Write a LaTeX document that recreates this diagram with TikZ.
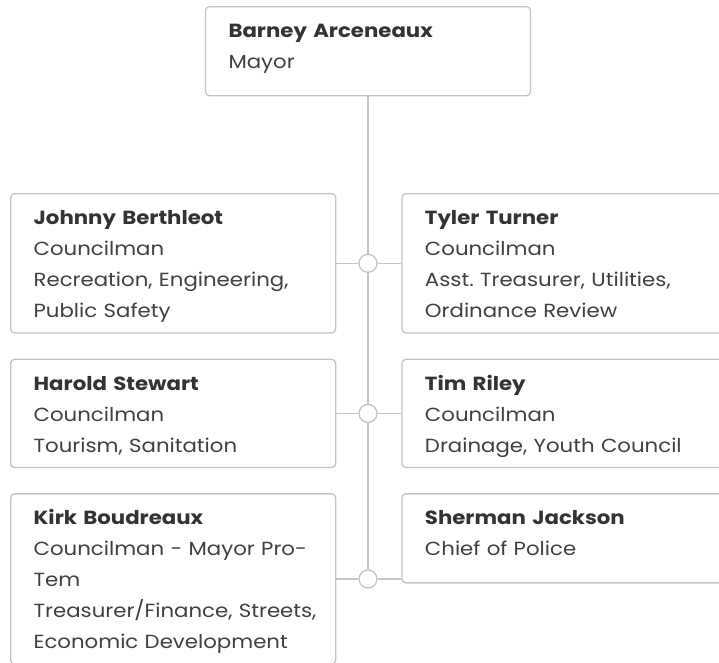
\documentclass[tikz,border=0pt]{standalone}
\usepackage{fontspec}
\setmainfont{Poppins}[FakeStretch=1.12]
\frenchspacing
\usetikzlibrary{positioning}
\definecolor{linegray}{HTML}{C4C4C4}
\definecolor{namegray}{HTML}{333333}
\definecolor{textgray}{HTML}{404040}
\tikzset{
x=1pt, y=-1pt, % pixel-like coordinates, y grows downwards
person/.style={draw=linegray, line width=1.3pt, rounded corners=4pt, fill=white,
  text width=279pt, align=left, inner xsep=23pt, inner ysep=6pt,
  text height=25pt, font=\fontsize{19}{31}\selectfont, text=textgray,
  execute at end node=\strut}, % every box of the chart
short/.style={text depth=52pt}, % two-line boxes are a bit taller
joint/.style={circle, draw=linegray, line width=1.3pt, fill=white, minimum size=18pt, inner sep=0pt},
link/.style={draw=linegray, line width=1.3pt},
}
\newcommand{\who}[1]{\textbf{\color{namegray}#1}}

\begin{document}
\begin{tikzpicture}
            \clip (0,0) rectangle (719,662);
            \node[person, short, anchor=north] (mayor) at (368,6) {\who{Barney Arceneaux}\\Mayor};
            \node[person, anchor=north west] (johnny) at (10,193)
                {\who{Johnny Berthleot}\\Councilman\\\mbox{Recreation, Engineering,}\\Public Safety};
            \node[person, below=25pt of johnny.south west, anchor=north west] (harold)
                {\who{Harold Stewart}\\Councilman\\Tourism, Sanitation};
            \node[person, below=25pt of harold.south west, anchor=north west] (kirk)
                {\who{Kirk Boudreaux}\\Councilman - Mayor Pro-\\Tem\\\mbox{Treasurer/Finance, Streets,}\\\mbox{Economic Development}};
            \node[person, right=65pt of johnny] (turner)
                {\who{Tyler Turner}\\Councilman\\\mbox{Asst. Treasurer, Utilities,}\\Ordinance Review};
            \node[person, right=65pt of harold] (riley)
                {\who{Tim Riley}\\Councilman\\\mbox{Drainage, Youth Council}};
            \node[person, short, right=65pt of kirk.north east, anchor=north west] (sherman)
                {\who{Sherman Jackson}\\Chief of Police};
            \node[joint] (j1) at (mayor |- johnny) {};
            \node[joint] (j2) at (mayor |- harold) {};
            \node[joint] (j3) at (mayor |- kirk) {};
            \draw[link]
                (mayor) -- (j1) -- (j2) -- (j3)
                (johnny) -- (j1) -- (turner)
                (harold) -- (j2) -- (riley)
                (kirk) -- (j3) -- (sherman.west |- j3)
                ;
            \end{tikzpicture}
\end{document}
